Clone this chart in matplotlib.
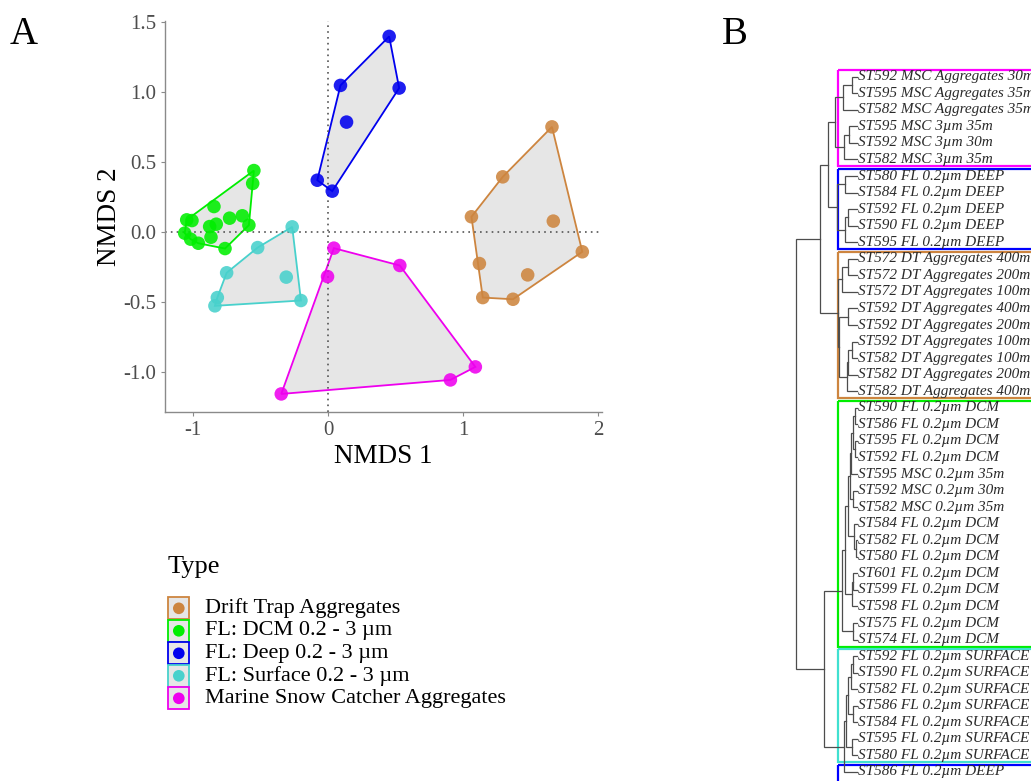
import numpy as np
import matplotlib.pyplot as plt
from matplotlib.patches import Polygon, Rectangle

plt.rcParams['font.family'] = ['Liberation Serif', 'DejaVu Serif']
plt.rcParams['axes.unicode_minus'] = False

W, H = 1031, 781

# NMDS scores per sample type
drift_x = [1.659, 1.294, 1.062, 1.669, 1.884, 1.121, 1.479, 1.146, 1.370]
drift_y = [0.752, 0.395, 0.110, 0.079, -0.140, -0.224, -0.305, -0.467, -0.479]
dcm_x = [-0.551, -0.560, -0.847, -1.049, -1.010, -0.731, -0.637, -0.588,
         -0.830, -0.879, -1.064, -0.869, -1.020, -0.963, -0.765]
dcm_y = [0.440, 0.348, 0.183, 0.088, 0.083, 0.100, 0.117, 0.050,
         0.057, 0.040, -0.007, -0.036, -0.050, -0.079, -0.117]
deep_x = [0.452, 0.091, 0.526, 0.136, -0.081, 0.030]
deep_y = [1.398, 1.048, 1.029, 0.786, 0.371, 0.293]
surface_x = [-0.267, -0.523, -0.753, -0.311, -0.822, -0.202, -0.840]
surface_y = [0.038, -0.110, -0.290, -0.321, -0.467, -0.488, -0.526]
msc_x = [0.042, 0.531, -0.005, 1.091, 0.906, -0.348]
msc_y = [-0.114, -0.238, -0.317, -0.962, -1.055, -1.155]

type_names = ["Drift Trap Aggregates", "FL: DCM 0.2 - 3 µm", "FL: Deep 0.2 - 3 µm",
              "FL: Surface 0.2 - 3 µm", "Marine Snow Catcher Aggregates"]
type_colors = ["#CD853F", "#00EE00", "#0000EE", "#48D1CC", "#EE00EE"]
type_xy = [(drift_x, drift_y), (dcm_x, dcm_y), (deep_x, deep_y),
           (surface_x, surface_y), (msc_x, msc_y)]

# hierarchical clustering (leaf order top to bottom)
leaf_labels = [
    "ST592 MSC Aggregates 30m", "ST595 MSC Aggregates 35m", "ST582 MSC Aggregates 35m",
    "ST595 MSC 3µm 35m", "ST592 MSC 3µm 30m", "ST582 MSC 3µm 35m",
    "ST580 FL 0.2µm DEEP", "ST584 FL 0.2µm DEEP", "ST592 FL 0.2µm DEEP",
    "ST590 FL 0.2µm DEEP", "ST595 FL 0.2µm DEEP",
    "ST572 DT Aggregates 400m", "ST572 DT Aggregates 200m", "ST572 DT Aggregates 100m",
    "ST592 DT Aggregates 400m", "ST592 DT Aggregates 200m", "ST592 DT Aggregates 100m",
    "ST582 DT Aggregates 100m", "ST582 DT Aggregates 200m", "ST582 DT Aggregates 400m",
    "ST590 FL 0.2µm DCM", "ST586 FL 0.2µm DCM", "ST595 FL 0.2µm DCM", "ST592 FL 0.2µm DCM",
    "ST595 MSC 0.2µm 35m", "ST592 MSC 0.2µm 30m", "ST582 MSC 0.2µm 35m",
    "ST584 FL 0.2µm DCM", "ST582 FL 0.2µm DCM", "ST580 FL 0.2µm DCM",
    "ST601 FL 0.2µm DCM", "ST599 FL 0.2µm DCM", "ST598 FL 0.2µm DCM",
    "ST575 FL 0.2µm DCM", "ST574 FL 0.2µm DCM",
    "ST592 FL 0.2µm SURFACE", "ST590 FL 0.2µm SURFACE", "ST582 FL 0.2µm SURFACE",
    "ST586 FL 0.2µm SURFACE", "ST584 FL 0.2µm SURFACE", "ST595 FL 0.2µm SURFACE",
    "ST580 FL 0.2µm SURFACE",
    "ST586 FL 0.2µm DEEP",
]

# (node, left, right, height); ints are leaves
merges = [
    ("a1", 0, 1, 0.054), ("a2", "a1", 2, 0.139),
    ("a3", 3, 4, 0.081), ("a4", "a3", 5, 0.129),
    ("msc", "a2", "a4", 0.224),
    ("d1", 6, 7, 0.122), ("d2", 8, 9, 0.091), ("d3", "d2", 10, 0.122),
    ("deep", "d1", "d3", 0.206),
    ("msc_deep", "msc", "deep", 0.292),
    ("t1", 11, 12, 0.091), ("t2", "t1", 13, 0.152),
    ("t3", 14, 15, 0.095), ("t4", 16, 17, 0.054), ("t5", "t4", 18, 0.091),
    ("t6", "t5", 19, 0.105), ("t7", "t3", "t6", 0.178),
    ("dt", "t2", "t7", 0.193),
    ("upper", "msc_deep", "dt", 0.376),
    ("c1", 20, 21, 0.02), ("c2", 22, 23, 0.02), ("c3", "c1", "c2", 0.045),
    ("c4", "c3", 24, 0.065), ("c5", 25, 26, 0.045), ("c6", "c4", "c5", 0.075),
    ("c7", 28, 29, 0.015), ("c8", 27, "c7", 0.03), ("c9", "c6", "c8", 0.095),
    ("c10", 30, 31, 0.04), ("c11", "c10", 32, 0.055), ("c12", "c9", "c11", 0.12),
    ("c13", 33, 34, 0.045), ("dcm", "c12", "c13", 0.15),
    ("s1", 35, 36, 0.04), ("s2", "s1", 37, 0.065), ("s3", 38, 39, 0.04),
    ("s4", "s2", "s3", 0.09), ("s5", 40, 41, 0.055), ("s6", "s4", "s5", 0.11),
    ("surf", "s6", 42, 0.135),
    ("lower", "dcm", "surf", 0.335),
    ("root", "upper", "lower", 0.62),
]

# coloured boxes around clusters: first leaf, last leaf, colour
cluster_boxes = [(0, 5, "#FF00FF"), (6, 10, "#0000FF"), (11, 19, "#CD853F"),
                 (20, 34, "#00EE00"), (35, 41, "#40E0D0"), (42, 43, "#0000FF")]
box_left = 0.193


def convex_hull(xs, ys):
    pts = sorted(zip(xs, ys))

    def cross(o, a, b):
        return (a[0] - o[0]) * (b[1] - o[1]) - (a[1] - o[1]) * (b[0] - o[0])

    lower, upper = [], []
    for p in pts:
        while len(lower) >= 2 and cross(lower[-2], lower[-1], p) <= 0:
            lower.pop()
        lower.append(p)
    for p in reversed(pts):
        while len(upper) >= 2 and cross(upper[-2], upper[-1], p) <= 0:
            upper.pop()
        upper.append(p)
    return np.array(lower[:-1] + upper[:-1])


fig = plt.figure(figsize=(W / 100, H / 100), dpi=100)

# ---- A: NMDS ordination ----
ax = fig.add_axes([165 / W, 1 - 412 / H, (602 - 165) / W, (412 - 20.7) / H])
for (xs, ys), col in zip(type_xy, type_colors):
    ax.add_patch(Polygon(convex_hull(xs, ys), closed=True, facecolor="#E6E6E6",
                         edgecolor=col, lw=1.3, zorder=1))
ax.axhline(0, color="#555555", ls=(0, (1, 2.5)), lw=1.2, zorder=2)
ax.axvline(0, color="#555555", ls=(0, (1, 2.5)), lw=1.2, zorder=2)
for (xs, ys), col in zip(type_xy, type_colors):
    ax.scatter(xs, ys, s=95, color=col, alpha=0.88, edgecolors="none", zorder=3)

ax.set_xlim(-1.21, 2.03)
ax.set_ylim(-1.284, 1.51)
ax.set_xticks([-1, 0, 1, 2])
ax.set_xticklabels(["-1", "0", "1", "2"])
ax.set_yticks([-1.0, -0.5, 0.0, 0.5, 1.0, 1.5])
ax.set_yticklabels(["-1.0", "-0.5", "0.0", "0.5", "1.0", "1.5"])
for side in ["top", "right"]:
    ax.spines[side].set_visible(False)
for side in ["left", "bottom"]:
    ax.spines[side].set_color("#8A8A8A")
    ax.spines[side].set_linewidth(1.0)
ax.tick_params(colors="#8A8A8A", labelcolor="#4D4D4D", labelsize=15, length=3, width=0.8)
ax.set_xlabel("NMDS 1", fontsize=19.5, labelpad=3)
ax.set_ylabel("NMDS 2", fontsize=19.5, labelpad=1)

fig.text(10 / W, 1 - 35 / H, "A", fontsize=28, va="center", ha="left")
fig.text(722 / W, 1 - 35 / H, "B", fontsize=28, va="center", ha="left")

# ---- legend ----
fig.text(168 / W, 1 - 567 / H, "Type", fontsize=19, va="center", ha="left")
lax = fig.add_axes([160 / W, 1 - 710 / H, 380 / W, 120 / H])
lax.set_xlim(0, 380)
lax.set_ylim(120, 0)
lax.axis("off")
for i, (name, col) in enumerate(zip(type_names, type_colors)):
    yc = 18.3 + 22.5 * i
    lax.add_patch(Rectangle((8.3, yc - 11), 21, 22, facecolor="#E6E6E6",
                            edgecolor=col, lw=1.3))
    lax.scatter([18.8], [yc], s=70, color=col, edgecolors="none")
    lax.text(45, yc, name, fontsize=16, va="center", ha="left")

# ---- B: dendrogram ----
px_per_unit = 98.4
leaf_px = 857
spacing = (772 - 76.7) / 42
dax = fig.add_axes([790 / W, 0, (W - 790) / W, 1])
dax.set_xlim((leaf_px - 790) / px_per_unit, (leaf_px - W) / px_per_unit)
dax.set_ylim(42 + (H - 772) / spacing, -76.7 / spacing)
dax.axis("off")

nodes = {i: (0.0, float(i)) for i in range(len(leaf_labels))}
for name, left, right, h in merges:
    hl, yl = nodes[left]
    hr, yr = nodes[right]
    dax.plot([hl, h, h, hr], [yl, yl, yr, yr], color="#4D4D4D", lw=0.9,
             solid_joinstyle="miter")
    nodes[name] = (h, (yl + yr) / 2)

# labels run past the right edge of the panel, as in the cropped figure
for i, lab in enumerate(leaf_labels):
    dax.text(-0.01, i, lab, fontsize=11, style="italic", color="#2A2A2A",
             va="center", ha="left")

for first, last, col in cluster_boxes:
    dax.add_patch(Rectangle((box_left, first - 0.42), -3.0, last - first + 0.84,
                            facecolor="none", edgecolor=col, lw=1.6))

fig.savefig("out.png", dpi=100)
